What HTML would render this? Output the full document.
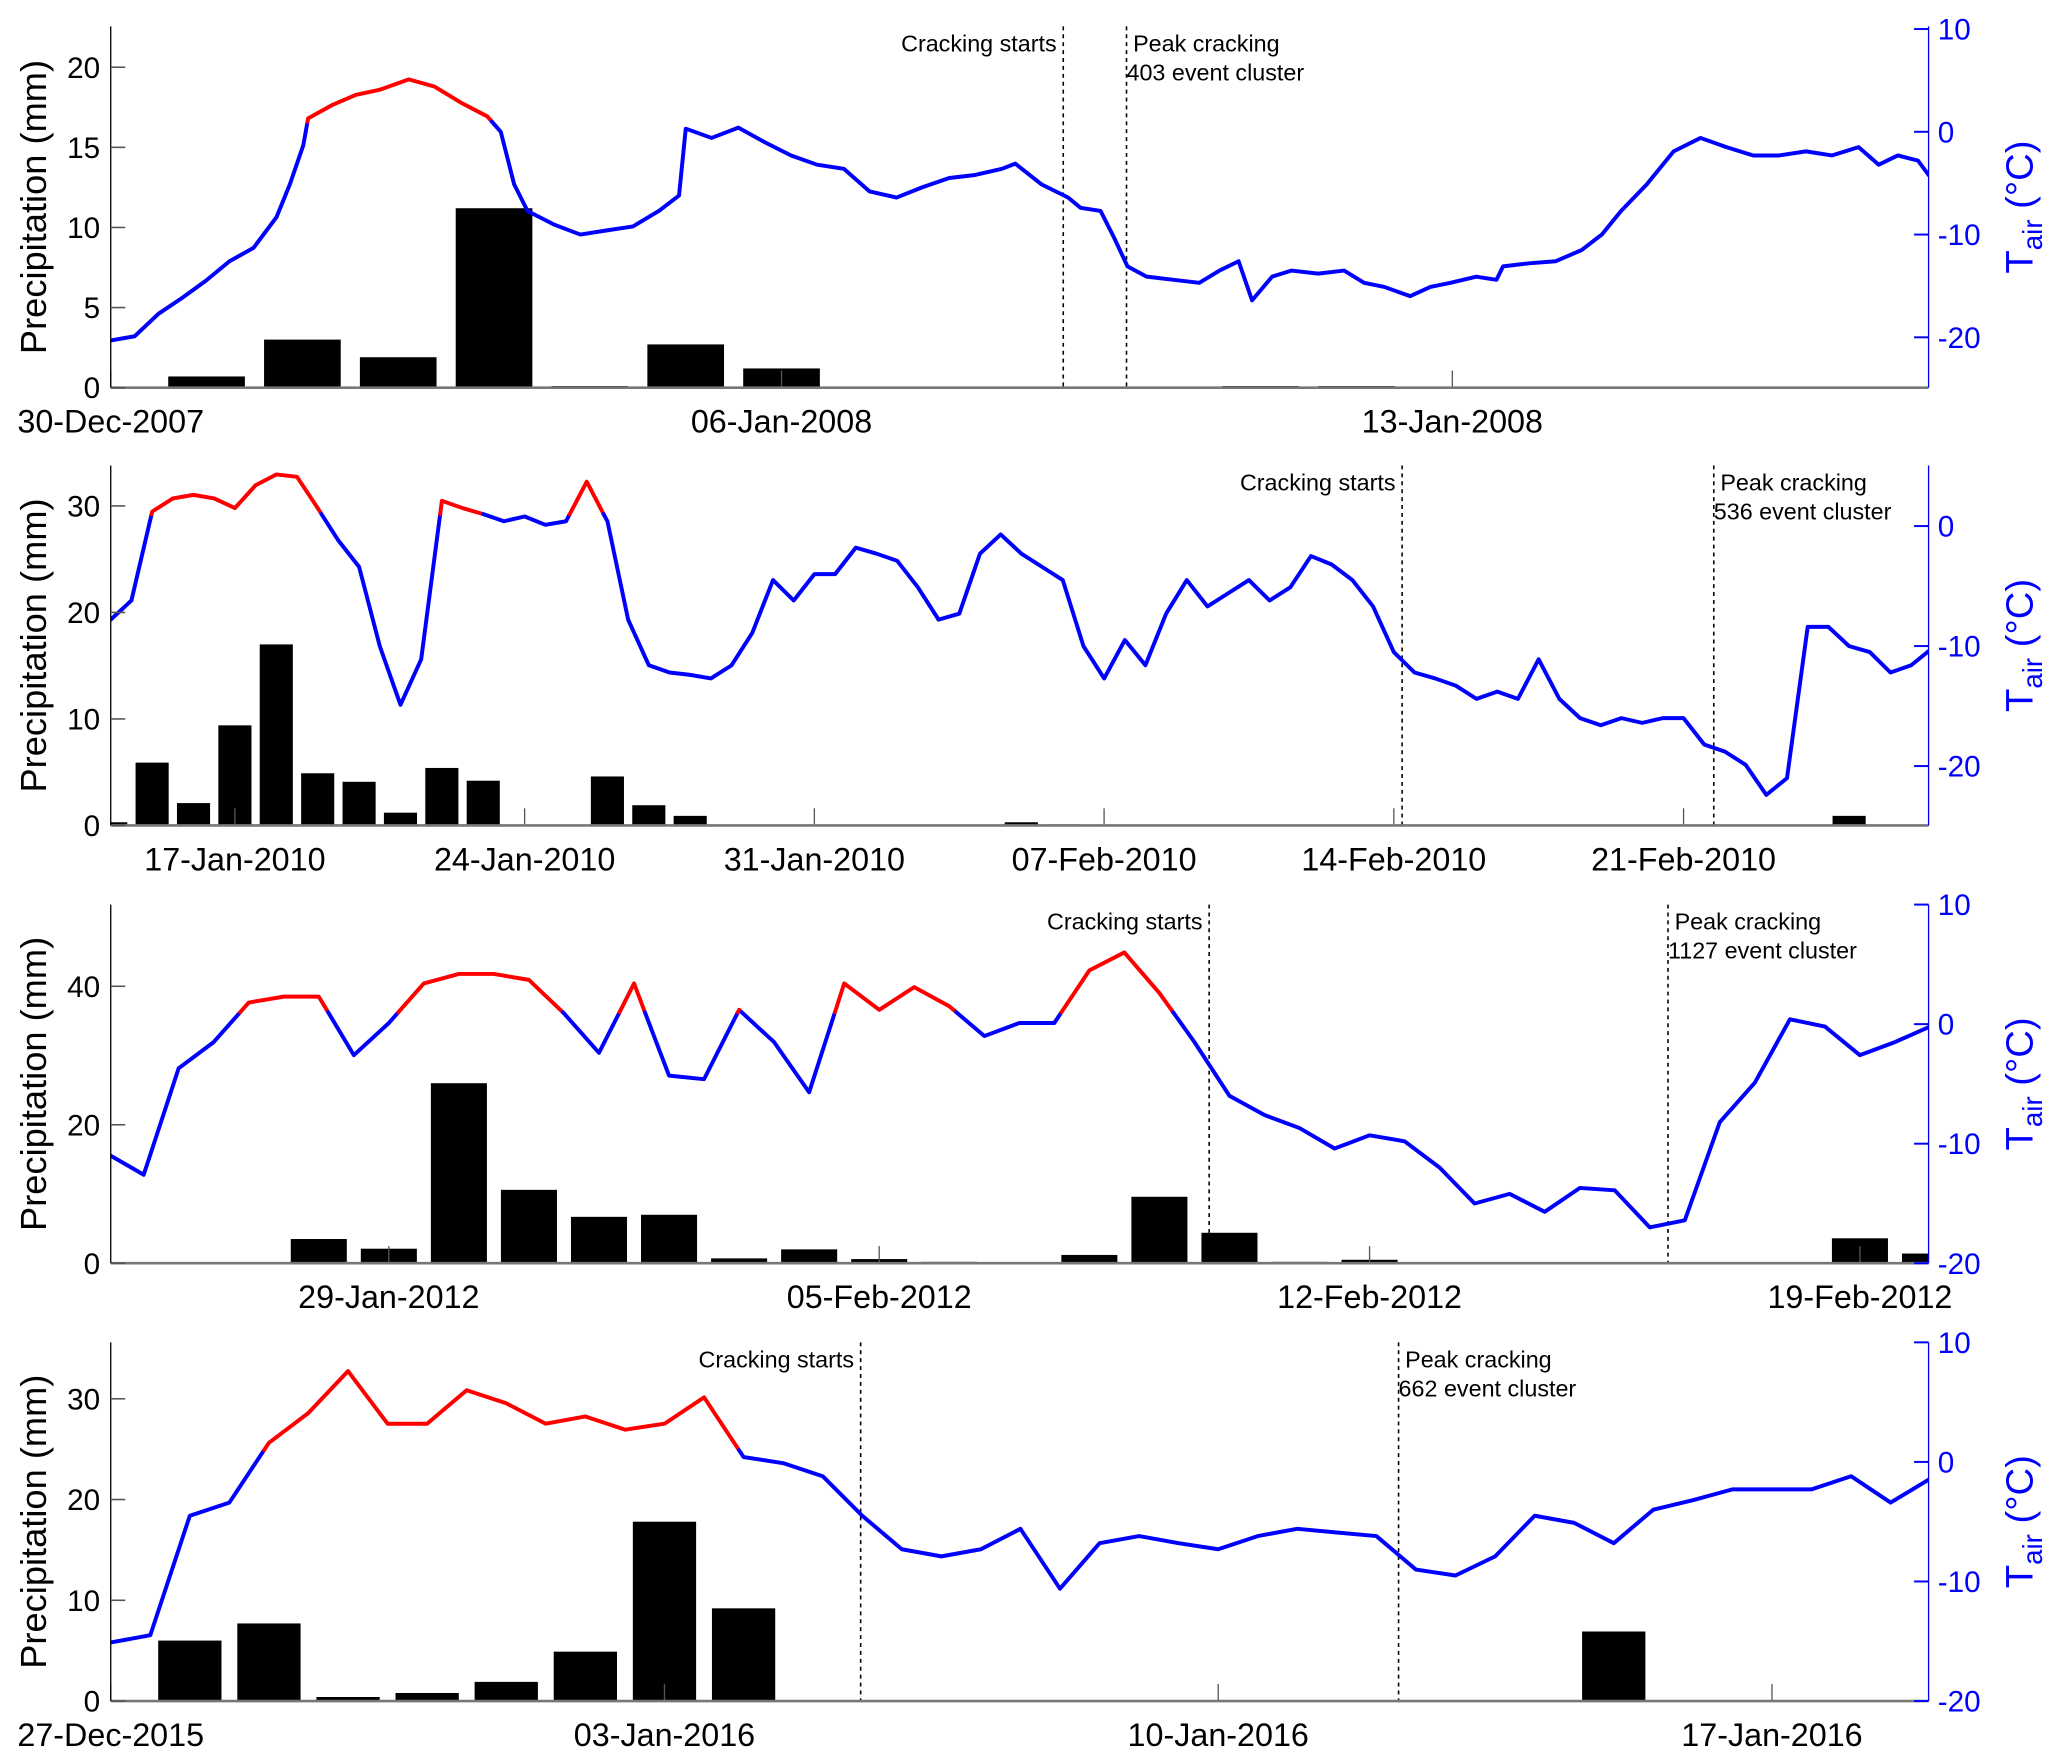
<!DOCTYPE html>
<html><head><meta charset="utf-8">
<style>
html,body{margin:0;padding:0;background:#fff;}
svg{display:block;font-family:"Liberation Sans",Arial,sans-serif;}
</style></head>
<body>
<svg id="chart" width="2067" height="1763" viewBox="0 0 1568 1337" preserveAspectRatio="none" xmlns="http://www.w3.org/2000/svg"></svg>
<script>
// ---------- Panel 1 (30-Dec-2007) ----------
const p1PrecipDays = [1,2,3,4,5,6,7,12,13];
const p1Precip = [0.7,3.0,1.9,11.2,0.1,2.7,1.2,0.1,0.1];
const p1TempDays = [0,.25,.5,.74,.99,1.24,1.49,1.73,1.87,2.01,2.06,2.31,2.56,2.81,3.11,3.38,3.66,3.93,4.07,4.21,4.35,4.62,4.9,5.17,5.45,5.72,5.93,6.0,6.27,6.55,6.82,7.1,7.37,7.65,7.92,8.2,8.47,8.75,9.02,9.3,9.44,9.71,9.99,10.12,10.33,10.47,10.61,10.81,11.09,11.36,11.57,11.77,11.91,12.12,12.32,12.6,12.87,13.08,13.29,13.56,13.77,13.98,14.25,14.46,14.53,14.8,15.08,15.35,15.56,15.76,16.03,16.31,16.59,16.86,17.14,17.41,17.69,17.96,18.24,18.45,18.65,18.86,18.97];
const p1Temp = [-20.3,-19.9,-17.7,-16.2,-14.5,-12.6,-11.3,-8.3,-5.1,-1.3,1.3,2.6,3.6,4.1,5.1,4.4,2.8,1.5,0.0,-5.1,-7.7,-9.0,-10.0,-9.6,-9.2,-7.7,-6.2,0.3,-0.6,0.4,-1.0,-2.3,-3.2,-3.6,-5.8,-6.4,-5.4,-4.5,-4.2,-3.6,-3.1,-5.1,-6.4,-7.4,-7.7,-10.3,-13.1,-14.1,-14.4,-14.7,-13.5,-12.6,-16.4,-14.1,-13.5,-13.8,-13.5,-14.7,-15.1,-16.0,-15.1,-14.7,-14.1,-14.4,-13.1,-12.8,-12.6,-11.5,-10.0,-7.7,-5.1,-1.9,-0.6,-1.5,-2.3,-2.3,-1.9,-2.3,-1.5,-3.2,-2.3,-2.8,-4.2];
const p1DateTicks = [0,7,14];
const p1DateLabels = ["30-Dec-2007","06-Jan-2008","13-Jan-2008"];
const p1PrecipTicks = [0,5,10,15,20];
const p1TempTicks = [-20,-10,0,10];
const p1Events = [9.94,10.6];

// ---------- Panel 2 (14-Jan-2010) ----------
const p2PrecipDays = [0,1,2,3,4,5,6,7,8,9,12,13,14,22,23,42];
const p2Precip = [0.3,5.9,2.1,9.4,17.0,4.9,4.1,1.2,5.4,4.2,4.6,1.9,0.9,0.3,0.1,0.9];
const p2TempStart = 0, p2TempStep = 0.5;
const p2Temp = [-7.8,-6.2,1.2,2.3,2.6,2.3,1.5,3.4,4.3,4.1,1.5,-1.2,-3.4,-10.0,-14.9,-11.1,2.1,1.5,1.0,0.4,0.8,0.1,0.4,3.7,0.4,-7.8,-11.6,-12.2,-12.4,-12.7,-11.6,-8.9,-4.5,-6.2,-4.0,-4.0,-1.8,-2.3,-2.9,-5.1,-7.8,-7.3,-2.3,-0.7,-2.3,-3.4,-4.5,-10.0,-12.7,-9.5,-11.6,-7.3,-4.5,-6.7,-5.6,-4.5,-6.2,-5.1,-2.5,-3.2,-4.5,-6.7,-10.5,-12.2,-12.7,-13.3,-14.4,-13.8,-14.4,-11.1,-14.4,-16.0,-16.6,-16.0,-16.4,-16.0,-16.0,-18.2,-18.8,-19.9,-22.4,-21.0,-8.4,-8.4,-10.0,-10.5,-12.2,-11.6,-10.2];
const p2DateTicks = [3,10,17,24,31,38];
const p2DateLabels = ["17-Jan-2010","24-Jan-2010","31-Jan-2010","07-Feb-2010","14-Feb-2010","21-Feb-2010"];
const p2PrecipTicks = [0,10,20,30];
const p2TempTicks = [-20,-10,0];
const p2Events = [31.2,38.73];

// ---------- Panel 3 (29-Jan-2012 = day 0) ----------
const p3PrecipDays = [-3,-2,-1,0,1,2,3,4,5,6,7,8,9,10,11,12,13,14,15,20,21,22];
const p3Precip = [0.1,0.1,3.5,2.1,26.0,10.6,6.7,7.0,0.7,2.0,0.6,0.2,0.1,1.2,9.6,4.4,0.2,0.5,0.1,0.1,3.6,1.4];
const p3TempStart = -4, p3TempStep = 0.5;
const p3Temp = [-10.9,-12.6,-3.7,-1.5,1.8,2.3,2.3,-2.6,0.1,3.4,4.2,4.2,3.7,0.9,-2.4,3.4,-4.3,-4.6,1.2,-1.5,-5.7,3.4,1.2,3.1,1.5,-1.0,0.1,0.1,4.5,6.0,2.6,-1.5,-6.0,-7.6,-8.7,-10.4,-9.3,-9.8,-12.0,-15.0,-14.2,-15.7,-13.7,-13.9,-17.0,-16.4,-8.2,-4.9,0.4,-0.2,-2.6,-1.5,-0.2];
const p3DateTicks = [0,7,14,21];
const p3DateLabels = ["29-Jan-2012","05-Feb-2012","12-Feb-2012","19-Feb-2012"];
const p3PrecipTicks = [0,20,40];
const p3TempTicks = [-20,-10,0,10];
const p3Events = [11.71,18.26];

// ---------- Panel 4 (27-Dec-2015) ----------
const p4PrecipDays = [1,2,3,4,5,6,7,8,19];
const p4Precip = [6.0,7.7,0.4,0.8,1.9,4.9,17.8,9.2,6.9];
const p4TempStart = 0, p4TempStep = 0.5;
const p4Temp = [-15.1,-14.5,-4.5,-3.4,1.6,4.1,7.6,3.2,3.2,6.0,4.9,3.2,3.8,2.7,3.2,5.4,0.4,-0.1,-1.2,-4.5,-7.3,-7.9,-7.3,-5.6,-10.6,-6.8,-6.2,-6.8,-7.3,-6.2,-5.6,-5.9,-6.2,-9.0,-9.5,-7.9,-4.5,-5.1,-6.8,-4.0,-3.2,-2.3,-2.3,-2.3,-1.2,-3.4,-1.4];
const p4DateTicks = [0,7,14,21];
const p4DateLabels = ["27-Dec-2015","03-Jan-2016","10-Jan-2016","17-Jan-2016"];
const p4PrecipTicks = [0,10,20,30];
const p4TempTicks = [-20,-10,0,10];
const p4Events = [9.48,16.28];
const eventClusters = ["403","536","1127","662"];

const NS = "http://www.w3.org/2000/svg";
const svg = document.getElementById('chart');
function mk(tag, attrs, parent){
  const e = document.createElementNS(NS, tag);
  for (const k in attrs) e.setAttribute(k, attrs[k]);
  (parent||svg).appendChild(e);
  return e;
}
function range(start, step, n){ const a=[]; for(let i=0;i<n;i++) a.push(start+i*step); return a; }

const panels = [
 {yTop:20,yBot:294,d0:0,d1:18.97,pMax:22.55,tMin:-24.9,tMax:10.26,
  pd:p1PrecipDays,pv:p1Precip,td:p1TempDays,tv:p1Temp,dt:p1DateTicks,dl:p1DateLabels,pt:p1PrecipTicks,tt:p1TempTicks,ev:p1Events,bw:0.8},
 {yTop:353,yBot:626,d0:0,d1:43.92,pMax:33.8,tMin:-24.95,tMax:5.05,
  pd:p2PrecipDays,pv:p2Precip,td:range(p2TempStart,p2TempStep,p2Temp.length),tv:p2Temp,dt:p2DateTicks,dl:p2DateLabels,pt:p2PrecipTicks,tt:p2TempTicks,ev:p2Events,bw:0.8},
 {yTop:686,yBot:958,d0:-3.97,d1:21.98,pMax:51.8,tMin:-20,tMax:10,
  pd:p3PrecipDays,pv:p3Precip,td:range(p3TempStart,p3TempStep,p3Temp.length),tv:p3Temp,dt:p3DateTicks,dl:p3DateLabels,pt:p3PrecipTicks,tt:p3TempTicks,ev:p3Events,bw:0.8},
 {yTop:1018,yBot:1290,d0:0,d1:22.98,pMax:35.6,tMin:-20,tMax:10,
  pd:p4PrecipDays,pv:p4Precip,td:range(p4TempStart,p4TempStep,p4Temp.length),tv:p4Temp,dt:p4DateTicks,dl:p4DateLabels,pt:p4PrecipTicks,tt:p4TempTicks,ev:p4Events,bw:0.8}
];
const X0=84, X1=1463, THR=1;

panels.forEach((p,pi)=>{
  const g = mk('g',{});
  
  
  const xs = d => X0 + (d-p.d0)/(p.d1-p.d0)*(X1-X0);
  const yp = v => p.yBot - v/p.pMax*(p.yBot-p.yTop);
  const yt = v => p.yBot - (v-p.tMin)/(p.tMax-p.tMin)*(p.yBot-p.yTop);
  const cid = 'clip'+pi;
  const cp = mk('clipPath',{id:cid},g);
  mk('rect',{x:X0,y:p.yTop-2,width:X1-X0,height:p.yBot-p.yTop+2},cp);

  const bg = mk('g',{'clip-path':'url(#'+cid+')'},g);
  
  
  const pxPerDay=(X1-X0)/(p.d1-p.d0);
  p.pd.forEach((d,i)=>{
    const x = xs(d)-p.bw*pxPerDay/2, y=yp(p.pv[i]);
    const r = mk('rect',{x:x,y:y,width:p.bw*pxPerDay,height:Math.max(p.yBot-y,0.8),fill:'#000'},bg);
    
    
  });

  p.dt.forEach((d,i)=>{
    const x=xs(d);
    mk('line',{x1:x,x2:x,y1:p.yBot,y2:p.yBot-13,stroke:'#555','stroke-width':1},g);
    const t=mk('text',{x:x,y:p.yBot+34,'text-anchor':'middle','font-size':24.5,fill:'#000'},g);
    t.textContent=p.dl[i];
    
    
  });

  p.ev.forEach((d,i)=>{
    const x=xs(d);
    const l=mk('line',{x1:x,x2:x,y1:p.yTop,y2:p.yBot,stroke:'#000','stroke-width':1.2,'stroke-dasharray':'3,3'},g);
    
    
    if(i===0){
      const t=mk('text',{x:x-5,y:p.yTop+19,'text-anchor':'end','font-size':17.7},g);
      t.textContent='Cracking starts';
      
      
    } else {
      const t=mk('text',{x:x+5,y:p.yTop+19,'font-size':17.7},g);
      t.textContent='Peak cracking';
      
      
      const t2=mk('text',{x:x,y:p.yTop+41,'font-size':17.7},g);
      t2.textContent=eventClusters[pi]+' event cluster';
      
      
    }
  });

  const lg = mk('g',{'clip-path':'url(#'+cid+')',fill:'none','stroke-width':3,'stroke-linejoin':'round','stroke-linecap':'round'},g);
  
  
  let cur=null, pts=[];
  function flush(){ if(pts.length>1){ mk('polyline',{points:pts.map(q=>q[0].toFixed(1)+','+q[1].toFixed(1)).join(' '),stroke:cur?'#ff0000':'#0000ff'},lg);} }
  for(let i=0;i<p.tv.length;i++){
    const d=p.td[i], v=p.tv[i], hot=v>THR;
    const P=[xs(d),yt(v)];
    if(cur===null){cur=hot;pts=[P];continue;}
    if(hot!==cur){
      const dp=p.td[i-1], vp=p.tv[i-1];
      const f=(THR-vp)/(v-vp);
      const C=[xs(dp+f*(d-dp)),yt(THR)];
      pts.push(C); flush(); cur=hot; pts=[C,P];
    } else pts.push(P);
  }
  flush();

  mk('line',{x1:X0,x2:X1,y1:p.yBot,y2:p.yBot,stroke:'#777','stroke-width':2},g);
  mk('line',{x1:X0,x2:X0,y1:p.yTop,y2:p.yBot,stroke:'#000','stroke-width':1},g);
  mk('line',{x1:X1,x2:X1,y1:p.yTop,y2:p.yBot,stroke:'#0000ff','stroke-width':1},g);
  p.pt.forEach(v=>{
    const y=yp(v);
    mk('line',{x1:X0,x2:X0+11,y1:y,y2:y,stroke:'#555','stroke-width':1.2},g);
    const t=mk('text',{x:X0-8,y:y+8,'text-anchor':'end','font-size':22.5},g);
    t.textContent=v;
    
    
  });
  p.tt.forEach(v=>{
    const y=yt(v);
    mk('line',{x1:X1,x2:X1-11,y1:y,y2:y,stroke:'#0000ff','stroke-width':1.5},g);
    const t=mk('text',{x:X1+7,y:y+8,'font-size':22.5,fill:'#0000ff'},g);
    t.textContent=v;
    
    
  });
  const cy=(p.yTop+p.yBot)/2;
  const yl=mk('text',{x:0,y:0,'text-anchor':'middle','font-size':27.5,transform:'translate(35,'+cy+') rotate(-90)'},g);
  yl.textContent='Precipitation (mm)';
  
  
  const tl=mk('text',{x:0,y:0,'text-anchor':'middle','font-size':29,fill:'#0000ff',transform:'translate(1542,'+cy+') rotate(-90)'},g);
  tl.innerHTML='T<tspan font-size="21" dy="7">air</tspan><tspan dy="-7"> (°C)</tspan>';
  
  
});
</script>
</body></html>
